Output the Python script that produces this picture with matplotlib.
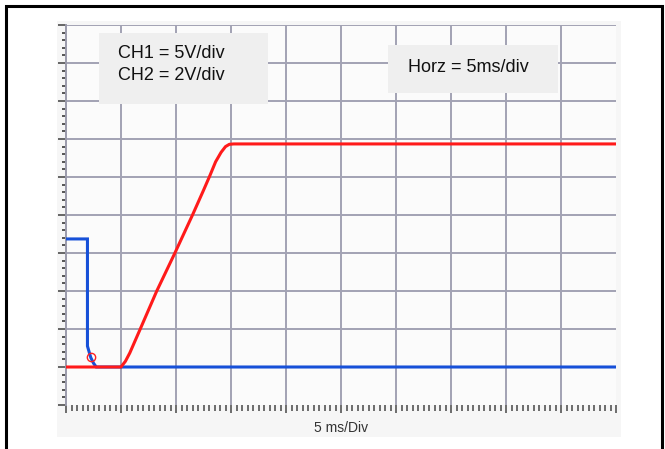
import numpy as np
import matplotlib
matplotlib.use("Agg")
from matplotlib import pyplot as plt
from matplotlib.patches import Rectangle
from matplotlib.ticker import MultipleLocator

# Scope traces, in divisions (x: 5 ms/div)
ch1_t = [0.0, 1.0, 1.08, 1.16, 1.35, 1.65, 1.98, 2.3, 2.5, 2.62, 2.72, 2.82, 2.9, 2.97, 3.05, 10.0]
ch1_v = [1.0, 1.0, 1.15, 1.37, 2.0, 3.0, 4.0, 5.0, 5.65, 6.05, 6.4, 6.65, 6.8, 6.86, 6.87, 6.87]

ch2_t = [0.0, 0.39, 0.39, 0.42, 0.45, 0.5, 0.55, 10.0]
ch2_v = [4.37, 4.37, 1.55, 1.4, 1.25, 1.1, 1.0, 1.0]

marker_t = [0.46]
marker_v = [1.27]

W, H = 665, 449
fig = plt.figure(figsize=(W / 100, H / 100), dpi=100)
fig.patch.set_facecolor("white")


def px_rect(x0, y0, x1, y1, **kw):
    # rectangle in image pixel coords (origin top-left)
    r = Rectangle((x0 / W, 1 - y1 / H), (x1 - x0) / W, (y1 - y0) / H,
                  transform=fig.transFigure, **kw)
    fig.add_artist(r)
    return r


# light panel behind the scope screen
px_rect(57, 21, 621, 437, facecolor="#f6f6f6", edgecolor="none", zorder=0)
# outer black frame
px_rect(6, 6, 662, 460, facecolor="none", edgecolor="black", linewidth=2.2, zorder=10)

ax = fig.add_axes([66 / W, 1 - 405 / H, 550 / W, 380 / H])
ax.set_facecolor("#fbfbfb")
ax.set_xlim(0, 10)
ax.set_ylim(0, 10)

grid_c = "#a2a2b4"
for y in range(1, 11):
    ax.axhline(y, color=grid_c, linewidth=1.4, zorder=1)
for x in range(1, 10):
    ax.axvline(x, color=grid_c, linewidth=1.4, zorder=1)

for s in ["top", "right", "bottom"]:
    ax.spines[s].set_visible(False)
ax.spines["left"].set_color("#9a9aaa")
ax.spines["left"].set_linewidth(1.4)

ax.xaxis.set_major_locator(MultipleLocator(1))
ax.xaxis.set_minor_locator(MultipleLocator(0.1))
ax.yaxis.set_major_locator(MultipleLocator(1))
ax.yaxis.set_minor_locator(MultipleLocator(0.2))
ax.tick_params(axis="x", which="major", direction="out", length=6, width=1.2,
               color="#555555", labelbottom=False)
ax.tick_params(axis="x", which="minor", direction="out", length=4, width=1.2,
               color="#555555")
ax.tick_params(axis="y", which="major", direction="out", length=6, width=1.4,
               color="#666666", labelleft=False)
ax.tick_params(axis="y", which="minor", direction="out", length=3, width=1.4,
               color="#555555")

ax.plot(ch2_t, ch2_v, color="#1650d8", linewidth=2.2, zorder=3,
        solid_joinstyle="miter")
ax.plot(ch1_t, ch1_v, color="#ff1a1a", linewidth=2.2, zorder=4)
ax.plot(marker_t, marker_v, marker="o", markersize=6, markerfacecolor="none",
        markeredgecolor="#ff2020", markeredgewidth=1.0, linestyle="none", zorder=5)

ax.set_xlabel("5 ms/Div", fontsize=10, color="#333333", labelpad=4,
              fontfamily="Liberation Sans")

# annotation boxes
px_rect(99, 33, 268, 104, facecolor="#efefef", edgecolor="none", zorder=6)
px_rect(388, 45, 558, 93, facecolor="#efefef", edgecolor="none", zorder=6)
fig.text(118 / W, 1 - 54 / H, "CH1 = 5V/div", fontsize=13, family="Liberation Sans",
         va="center", ha="left", color="#111111", zorder=7)
fig.text(118 / W, 1 - 75 / H, "CH2 = 2V/div", fontsize=13, family="Liberation Sans",
         va="center", ha="left", color="#111111", zorder=7)
fig.text(408 / W, 1 - 67 / H, "Horz = 5ms/div", fontsize=13, family="Liberation Sans",
         va="center", ha="left", color="#111111", zorder=7)

fig.savefig("out.png", dpi=100)
